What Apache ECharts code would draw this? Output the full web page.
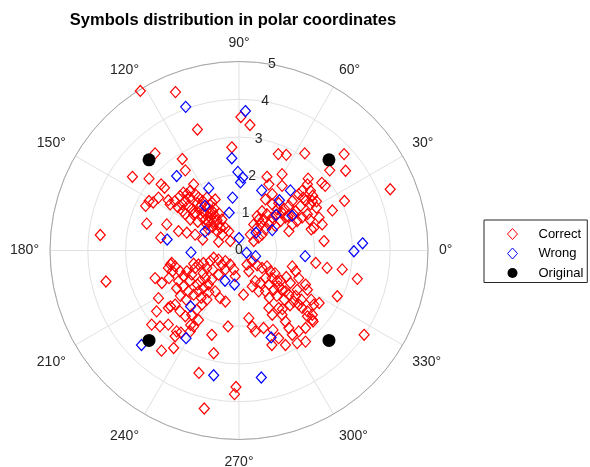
<!DOCTYPE html>
<html><head><meta charset="utf-8">
<script src="https://cdn.jsdelivr.net/npm/echarts@6/dist/echarts.min.js"></script>
<style>html,body{margin:0;padding:0;background:#fff}#c{width:590px;height:467px}</style>
</head><body><div id="c"></div>
<script>
// Tick values / labels
const angleTicks = [0,30,60,90,120,150,180,210,240,270,300,330];
const angleLabels = ['0°','30°','60°','90°','120°','150°','180°','210°','240°','270°','300°','330°'];
const radiusTicks = [0,1,2,3,4,5];
const seriesNames = ['Correct','Wrong','Original'];

const correctSymbols = [
[-0.19,2.73],[-2.22,2.57],[1.04,2.55],[1.25,2.53],[1.74,2.57],[2.78,2.55],[-1.50,2.42],[-1.42,2.12],[-2.82,1.95],[-2.38,1.90],[-2.06,1.75],[-1.97,1.66],[2.82,2.11],[2.40,2.12],[2.19,1.79],[2.28,1.71],[1.14,2.02],[0.74,1.95],[0.79,1.75],[1.83,1.90],[2.79,1.31],[2.47,1.06],[-1.20,1.75],
[-2.38,1.31],[-2.27,1.27],[-2.13,1.40],[-2.47,1.18],[-1.87,1.33],[-1.82,1.22],[-1.56,1.44],[-1.47,1.53],[-1.38,1.49],[-1.29,1.58],[-1.50,1.22],[-1.42,1.31],[-1.34,1.18],[-1.16,1.49],[-1.07,1.40],[-0.96,1.31],[-0.85,1.40],[-1.25,1.09],[-1.16,1.00],[-1.05,1.13],[-0.94,1.03],[-0.81,1.12],[-0.70,1.04],[-0.63,0.91],[-0.52,0.97],[-0.45,0.82],[-0.76,0.87],[-0.67,0.76],[-0.54,0.69],[-0.58,0.51],[-0.45,0.42],[-0.36,0.60],[-0.85,0.69],[-0.81,0.56],[-0.72,1.27],[-0.63,1.35],[-1.42,0.96],[-1.29,0.82],[-1.09,0.76],[-1.60,0.51],[-1.38,0.47],[-1.16,0.42],[-1.91,0.69],[-2.44,0.71],[-0.96,0.29],[-0.27,0.51],[-0.54,0.23],[-0.23,0.25],[-1.49,1.04],[-1.62,1.15],[-0.98,0.87],[-0.89,0.82],[-2.07,0.34],
[-0.75,1.00],[-0.66,1.12],[-0.58,0.80],[-0.88,0.95],[-1.00,1.20],[-0.70,0.62],[-0.49,0.60],[-1.10,1.25],[-0.80,0.75],[-1.30,1.40],[-1.70,1.30],[-1.20,0.95],
[0.88,1.22],[1.01,1.09],[1.14,1.00],[1.23,0.87],[1.10,0.78],[0.96,0.65],[0.79,0.69],[0.70,0.56],[0.61,0.42],[0.52,0.34],[0.39,0.25],[0.30,0.42],[0.48,0.60],[0.65,0.82],[0.74,0.96],[0.88,0.87],[1.32,1.18],[1.41,1.31],[1.58,1.49],[1.81,1.75],[1.89,1.58],[1.67,1.58],[1.50,1.04],[1.63,1.18],[1.76,1.31],[1.89,1.22],[1.81,0.96],[1.67,0.87],[1.54,0.78],[1.41,0.69],[1.32,0.51],[1.94,1.31],[1.98,0.60],[2.20,0.69],[2.25,0.25],[0.61,1.04],[0.48,0.91],[0.70,1.35],[0.88,1.49],[1.14,1.71],[0.52,0.82],[0.39,0.69],[2.12,0.87],
[1.00,0.95],[1.20,1.10],[0.85,0.75],[1.05,1.25],[1.45,0.95],[1.70,1.40],[1.95,1.45],[2.05,1.30],[0.58,0.70],[1.30,0.90],[2.05,1.13],[1.87,0.82],[1.91,0.56],
[-2.22,-0.73],[-2.13,-1.26],[-2.18,-1.61],[-2.31,-1.96],[-2.09,-2.01],[-1.87,-1.96],[-2.04,-0.86],[-1.87,-0.46],[-1.78,-0.33],[-1.69,-0.42],[-1.56,-0.55],[-1.47,-0.68],[-1.38,-0.55],[-1.25,-0.64],[-1.16,-0.46],[-1.07,-0.37],[-0.94,-0.33],[-0.85,-0.46],[-0.76,-0.28],[-0.67,-0.19],[-0.54,-0.24],[-0.45,-0.37],[-0.36,-0.28],[-0.23,-0.37],[-0.14,-0.50],[-0.36,-0.50],[-1.60,-0.81],[-1.47,-0.95],[-1.34,-1.08],[-1.20,-1.17],[-1.07,-1.08],[-0.94,-0.99],[-0.81,-0.90],[-0.72,-0.77],[-0.89,-0.73],[-1.02,-0.81],[-1.87,-1.52],[-1.69,-1.43],[-1.56,-1.61],[-1.42,-1.74],[-1.25,-1.70],[-1.12,-1.57],[-0.98,-1.43],[-0.85,-1.30],[-1.07,-1.84],[-1.20,-2.01],[-1.29,-2.14],[-1.65,-2.14],[-1.69,-2.27],[-1.73,-2.58],[-0.72,-2.23],[-0.67,-2.72],[-0.29,-2.01],[-0.63,-1.08],[-0.50,-1.26],[-0.36,-1.35],[-0.10,-0.68],[-0.54,-0.64],[-2.05,-2.65],[-1.81,-0.37],[-1.76,-0.55],[-1.85,-0.73],[-1.81,-1.48],[-1.28,-1.97],[-1.54,-2.17],
[-1.30,-0.80],[-1.10,-0.90],[-0.95,-0.60],[-1.40,-1.30],[-1.00,-1.25],[-1.55,-1.20],[-0.70,-0.50],[-1.20,-0.35],[-1.65,-1.00],[-0.80,-1.10],
[0.35,-0.28],[0.48,-0.39],[0.61,-0.46],[0.74,-0.42],[0.83,-0.55],[0.88,-0.73],[1.01,-0.81],[1.05,-0.95],[1.14,-1.04],[1.23,-1.08],[1.32,-1.17],[1.45,-1.35],[1.58,-1.43],[1.67,-1.52],[1.81,-1.61],[1.94,-1.70],[0.70,-0.73],[0.79,-0.90],[0.92,-1.04],[0.70,-1.08],[0.57,-0.86],[1.58,-0.73],[1.76,-0.90],[1.81,-1.04],[1.54,-1.04],[1.36,-0.86],[2.03,-0.33],[2.33,-0.46],[2.73,-0.50],[2.60,-1.21],[2.12,-1.39],[1.98,-1.43],[1.94,-1.83],[1.81,-1.74],[1.76,-2.05],[1.58,-2.14],[1.41,-2.23],[1.54,-2.45],[1.76,-2.41],[1.05,-1.52],[1.14,-1.70],[1.23,-1.88],[1.32,-2.05],[0.88,-1.70],[0.79,-1.52],[0.65,-2.05],[0.43,-2.14],[0.26,-1.79],[0.35,-2.01],[1.23,-2.50],[1.05,-2.32],[0.43,-0.81],[0.52,-1.08],[0.35,-0.95],[0.21,-0.37],[0.26,-0.55],[1.41,-0.42],[1.50,-0.55],[0.12,-1.17],[1.91,-1.30],[0.90,-2.10],[0.87,-2.50],[1.96,-1.88],
[1.00,-1.20],[1.20,-1.30],[1.10,-0.80],[0.95,-0.60],[1.35,-1.45],[1.50,-1.20],[1.25,-0.70],[0.80,-1.25],[1.65,-1.30],[1.15,-1.55],
[-2.61,4.22],[-1.68,4.19],[-1.10,3.20],[0.05,3.53],[0.29,3.32],[4.42,2.57],[4.00,1.62],[-3.67,0.41],[-3.52,-0.82],[3.13,-0.75],[3.31,-2.23],[-1.06,-3.24],[-0.08,-3.61],[-0.12,-3.80],[-0.92,-4.18]
];
const wrongSymbols = [
[-1.41,3.80],[0.17,3.69],[-0.19,2.44],[-1.65,1.97],[-0.03,2.08],[0.10,1.93],[0.04,1.80],[-0.80,1.65],[0.60,1.59],[1.36,1.59],[-0.17,1.40],[1.07,1.33],[-0.90,1.18],[-0.26,1.00],[1.40,0.92],[0.98,0.94],[-0.90,0.50],[0.45,0.47],[0.88,0.54],[0.00,0.33],[-1.90,0.29],[-1.27,-0.05],[0.20,-0.06],[0.44,-0.15],[1.75,-0.15],[3.04,-0.02],[3.27,0.19],[-0.37,-0.80],[-0.12,-0.90],[-1.28,-1.48],[-1.40,-2.32],[-2.58,-2.50],[0.85,-2.30],[-0.67,-3.30],[0.59,-3.36]
];
const originalSymbols = [[2.38,2.40],[-2.38,2.40],[-2.38,-2.38],[2.38,-2.38]];

function toPolar(p) {
  const r = Math.hypot(p[0], p[1]);
  let a = Math.atan2(p[1], p[0]) * 180 / Math.PI;
  if (a < 0) a += 360;
  return [r, a];
}

const C = [239, 250.5], R = 189;
const txt = '#262626';
const font = 'Liberation Sans, Arial, Helvetica, sans-serif';

const chart = echarts.init(document.getElementById('c'), null, {renderer: 'canvas'});
chart.setOption({
  backgroundColor: '#fff',
  animation: false,
  title: {
    text: 'Symbols distribution in polar coordinates',
    left: 228, top: 7, textAlign: 'center',
    textStyle: {fontFamily: font, fontSize: 16.5, fontWeight: 'bold', color: '#000'}
  },
  legend: {
    orient: 'vertical', left: 484, top: 220,
    itemWidth: 10, itemHeight: 11, itemGap: 6.5,
    padding: [7.5, 4, 3, 23],
    borderColor: '#262626', borderWidth: 1,
    itemStyle: {borderWidth: 1},
    textStyle: {fontFamily: font, fontSize: 13, color: '#000', padding: [0, 0, 0, 16]},
    data: seriesNames
  },
  polar: [{center: C, radius: R}, {center: C, radius: R}],
  angleAxis: [{
    polarIndex: 0, type: 'value', min: 0, max: 360, interval: 30,
    startAngle: 0, clockwise: false,
    axisLine: {lineStyle: {color: '#a6a6a6', width: 1}},
    axisTick: {show: false},
    splitLine: {lineStyle: {color: '#e1e1e1', width: 1}},
    axisLabel: {
      margin: 11, color: txt, fontSize: 14, fontFamily: font,
      rich: {b: {fontSize: 14, fontFamily: font, color: txt, padding: [5, 0, 0, 0]}},
      formatter: v => {
        const i = angleTicks.indexOf(v);
        if (i < 0) return '';
        return (v > 180 && v < 360) ? '{b|' + angleLabels[i] + '}' : angleLabels[i];
      }
    }
  }, {
    polarIndex: 1, type: 'value', min: 0, max: 360, startAngle: 80, clockwise: false,
    axisLine: {show: false}, axisTick: {show: false}, axisLabel: {show: false}, splitLine: {show: false}
  }],
  radiusAxis: [{
    polarIndex: 0, type: 'value', min: radiusTicks[0], max: radiusTicks[radiusTicks.length - 1], interval: 1,
    axisLine: {show: false}, axisTick: {show: false}, axisLabel: {show: false},
    splitLine: {show: true, lineStyle: {color: '#e1e1e1', width: 1}}
  }, {
    polarIndex: 1, type: 'value', min: radiusTicks[0], max: radiusTicks[radiusTicks.length - 1], interval: 1, z: 10,
    axisLine: {show: false}, axisTick: {show: false}, splitLine: {show: false},
    axisLabel: {show: true, margin: 0, align: 'center', verticalAlign: 'middle', color: txt, fontSize: 14, fontFamily: font}
  }],
  series: [{
    name: seriesNames[0], type: 'scatter', coordinateSystem: 'polar', polarIndex: 0,
    symbol: 'diamond', symbolSize: [10, 11],
    itemStyle: {color: 'rgba(0,0,0,0)', borderColor: '#ff0000', borderWidth: 1.2, opacity: 1},
    data: correctSymbols.map(toPolar), z: 2
  }, {
    name: seriesNames[1], type: 'scatter', coordinateSystem: 'polar', polarIndex: 0,
    symbol: 'diamond', symbolSize: [10, 11],
    itemStyle: {color: 'rgba(0,0,0,0)', borderColor: '#0000ff', borderWidth: 1.2, opacity: 1},
    data: wrongSymbols.map(toPolar), z: 3
  }, {
    name: seriesNames[2], type: 'scatter', coordinateSystem: 'polar', polarIndex: 0,
    symbol: 'circle', symbolSize: 13,
    itemStyle: {color: '#000000', opacity: 1},
    data: originalSymbols.map(toPolar), z: 4
  }]
});
</script>
</body></html>
